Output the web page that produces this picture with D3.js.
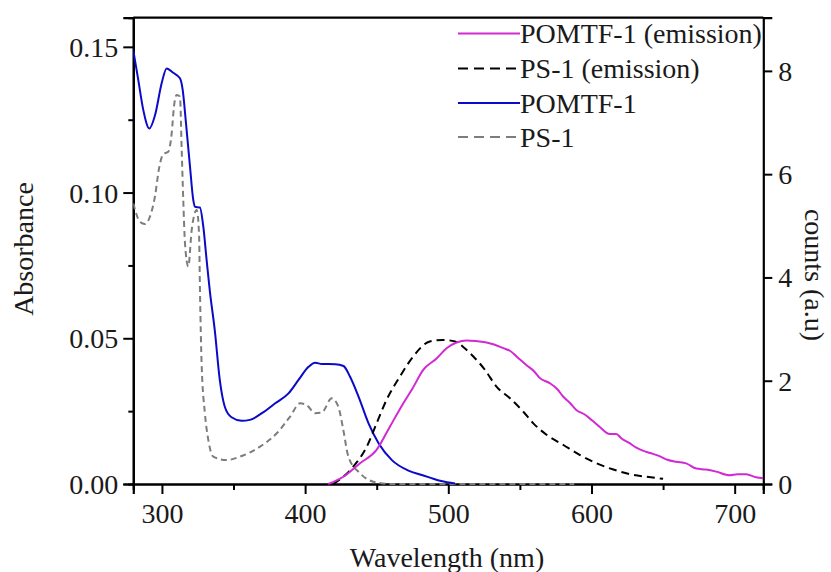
<!DOCTYPE html>
<html>
<head>
<meta charset="utf-8">
<script src="https://cdn.jsdelivr.net/npm/d3@7"></script>
<style>
  html, body { margin: 0; padding: 0; background: #fff; }
  svg { display: block; }
  text { font-family: "Liberation Serif", "Times New Roman", serif; fill: #1a1a1a; }
</style>
</head>
<body>
<svg id="chart" width="831" height="572"></svg>
<script>
// Absorption spectra (left axis, absorbance) and emission spectra (right axis, counts)
const pomtfAbsWl  = [280, 283.5, 287, 291.2, 295.2, 299.8, 303.3, 307.9, 312.6, 314.5, 316.8, 319.6, 321.9, 323.1, 326.5, 328.9, 331.2, 333.5, 336.9, 340.4, 343.9, 348.6, 355.6, 361.4, 369.8, 379.1, 388.4, 395.4, 402.4, 407, 411.7, 421, 426.8, 431.4, 437.3, 444.3, 451.3, 460.6, 472.2, 481.5, 487.2, 495, 504.7];
const pomtfAbs    = [0.1488, 0.1386, 0.1283, 0.1220, 0.1266, 0.1375, 0.1426, 0.1411, 0.1392, 0.1352, 0.1238, 0.1089, 0.0974, 0.0951, 0.0949, 0.0883, 0.0769, 0.0660, 0.0528, 0.0357, 0.0265, 0.0229, 0.0217, 0.0220, 0.0243, 0.0277, 0.0311, 0.0357, 0.0402, 0.0416, 0.0412, 0.0411, 0.0405, 0.0368, 0.0300, 0.0208, 0.0140, 0.0082, 0.0046, 0.0031, 0.0022, 0.0010, 0.0002];

const ps1AbsWl    = [280, 284.6, 288.1, 291.6, 295.1, 298.2, 300.9, 304.4, 306.8, 308.4, 310.3, 312.6, 313.8, 314.9, 316.1, 318.4, 320.8, 324.3, 325.9, 326.6, 327.7, 330, 332.4, 335.9, 345.2, 354.6, 368.5, 380.2, 389.5, 396.5, 401.1, 406.9, 411.6, 418.6, 423.2, 426.7, 430.2, 438.3, 447.6, 460, 520, 588];
const ps1Abs      = [0.0963, 0.0900, 0.0892, 0.0917, 0.0986, 0.1089, 0.1132, 0.1140, 0.1203, 0.1295, 0.1335, 0.1329, 0.1146, 0.0974, 0.0826, 0.0746, 0.0872, 0.0940, 0.0860, 0.0654, 0.0414, 0.0243, 0.0151, 0.0094, 0.0082, 0.0094, 0.0128, 0.0174, 0.0231, 0.0277, 0.0271, 0.0243, 0.0245, 0.0294, 0.0265, 0.0185, 0.0094, 0.0037, 0.0008, 0.0, 0.0, 0.0];

const pomtfEmWl   = [416.2, 426.7, 438.3, 449.9, 459.2, 468.5, 475, 482.5, 491.8, 498.8, 505.8, 512.8, 519, 526.7, 532, 538.4, 543, 547.7, 554.7, 560, 564, 571, 576, 580.3, 585, 589.6, 595, 600.1, 606, 612.7, 617.3, 621, 626.6, 631, 635.9, 641, 647.5, 653, 659.1, 666.1, 673.1, 680, 687.1, 696.4, 702, 708, 715, 720];
const pomtfEm     = [0.0, 0.14, 0.40, 0.66, 1.11, 1.56, 1.85, 2.21, 2.43, 2.63, 2.74, 2.78, 2.77, 2.74, 2.70, 2.63, 2.58, 2.47, 2.30, 2.18, 2.05, 1.95, 1.84, 1.69, 1.57, 1.43, 1.35, 1.24, 1.10, 0.97, 0.97, 0.88, 0.79, 0.71, 0.645, 0.60, 0.54, 0.47, 0.43, 0.40, 0.30, 0.28, 0.24, 0.17, 0.19, 0.19, 0.13, 0.11];

const ps1EmWl     = [419.7, 433.6, 443, 449.9, 456.9, 466.2, 475.5, 487.1, 496.4, 504.7, 511, 517.5, 525.6, 533.8, 543.1, 552.4, 559.4, 568.8, 580.4, 592, 603.6, 615.3, 626.9, 638.5, 650];
const ps1Em       = [0.0, 0.335, 0.72, 1.175, 1.63, 2.08, 2.47, 2.76, 2.79, 2.76, 2.64, 2.47, 2.21, 1.88, 1.66, 1.40, 1.175, 0.95, 0.755, 0.56, 0.40, 0.28, 0.19, 0.14, 0.10];

const xTicks      = [300, 400, 500, 600, 700];
const xMinorTicks = [350, 450, 550, 650];
const yLeftTicks  = [0.00, 0.05, 0.10, 0.15];
const yLeftMinor  = [0.025, 0.075, 0.125];
const yRightTicks = [0, 2, 4, 6, 8];

const legendLabels = ["POMTF-1 (emission)", "PS-1 (emission)", "POMTF-1", "PS-1"];

const svg = d3.select("#chart");
const m = { left: 133.3, right: 763.3, top: 17.7, bottom: 484 };

const x = d3.scaleLinear().domain([280, 720]).range([m.left, m.right]);
const yL = d3.scaleLinear().domain([0, 0.16]).range([m.bottom, m.top]);
const yR = d3.scaleLinear().domain([0, 9.03]).range([m.bottom, m.top]);

const styles = {
  pomtfEm: { color: "#d22ad2", dash: null },
  ps1Em:   { color: "#000000", dash: "8,5" },
  pomtfAbs:{ color: "#0a0ac8", dash: null },
  ps1Abs:  { color: "#7d7d7d", dash: "6,4" }
};

function pairs(xs, ys) { return xs.map((v, i) => [v, ys[i]]); }

const plot = svg.append("g");

// Clip curves to the plotting frame
svg.append("clipPath").attr("id", "clip")
  .append("rect").attr("x", m.left).attr("y", m.top)
  .attr("width", m.right - m.left).attr("height", m.bottom - m.top + 2);

const lineL = d3.line().x(d => x(d[0])).y(d => yL(d[1])).curve(d3.curveMonotoneX);
const lineR = d3.line().x(d => x(d[0])).y(d => yR(d[1])).curve(d3.curveMonotoneX);

// Axes (drawn first so curves lying on zero overlay the baseline)
const fs = 28;

const xAxis = d3.axisBottom(x).tickValues(xTicks).tickSize(10).tickPadding(8).tickFormat(d3.format("d"));
const gx = svg.append("g").attr("transform", `translate(0,${m.bottom})`).call(xAxis);
svg.append("g").attr("transform", `translate(0,${m.bottom})`)
  .call(d3.axisBottom(x).tickValues(xMinorTicks).tickSize(6).tickFormat(""));

const gyl = svg.append("g").attr("transform", `translate(${m.left},0)`)
  .call(d3.axisLeft(yL).tickValues(yLeftTicks).tickSize(10).tickPadding(5).tickFormat(d3.format(".2f")));
svg.append("g").attr("transform", `translate(${m.left},0)`)
  .call(d3.axisLeft(yL).tickValues(yLeftMinor).tickSize(5).tickFormat(""));

const gyr = svg.append("g").attr("transform", `translate(${m.right},0)`)
  .call(d3.axisRight(yR).tickValues(yRightTicks).tickSize(9).tickPadding(6).tickFormat(d3.format("d")));

svg.selectAll(".domain").attr("stroke", "#000").attr("stroke-width", 2.2);
svg.selectAll(".tick line").attr("stroke", "#000").attr("stroke-width", 2);
svg.selectAll(".tick text").style("font-family", '"Liberation Serif", serif').style("font-size", fs + "px").attr("fill", "#1a1a1a");
gyl.selectAll(".tick text").attr("dy", "0.34em");
gyr.selectAll(".tick text").attr("dy", "0.34em");
gx.selectAll(".tick text").attr("dy", "0.76em");

// Top frame line
svg.append("line").attr("x1", m.left).attr("x2", m.right).attr("y1", m.top).attr("y2", m.top)
  .attr("stroke", "#000").attr("stroke-width", 2.2);

// Spectra
const curves = [
  { data: pairs(ps1AbsWl, ps1Abs), line: lineL, s: styles.ps1Abs },
  { data: pairs(pomtfAbsWl, pomtfAbs), line: lineL, s: styles.pomtfAbs },
  { data: pairs(ps1EmWl, ps1Em), line: lineR, s: styles.ps1Em },
  { data: pairs(pomtfEmWl, pomtfEm), line: lineR, s: styles.pomtfEm }
];
plot.attr("clip-path", "url(#clip)");
curves.forEach(c => {
  plot.append("path")
    .datum(c.data)
    .attr("d", c.line)
    .attr("fill", "none")
    .attr("stroke", c.s.color)
    .attr("stroke-width", 2)
    .attr("stroke-dasharray", c.s.dash);
});
plot.raise();

// Legend
const legendStyles = [styles.pomtfEm, styles.ps1Em, styles.pomtfAbs, styles.ps1Abs];
const legendY = [33.5, 68.5, 103, 137];
const lg = svg.append("g");
legendLabels.forEach((lab, i) => {
  const st = legendStyles[i];
  lg.append("line")
    .attr("x1", 458).attr("x2", 520)
    .attr("y1", legendY[i]).attr("y2", legendY[i])
    .attr("stroke", st.color).attr("stroke-width", 2)
    .attr("stroke-dasharray", st.dash ? "10,6" : null);
  lg.append("text")
    .attr("x", 520).attr("y", legendY[i]).attr("dy", "0.34em")
    .style("font-size", fs + "px")
    .text(lab);
});

// Axis titles
svg.append("text")
  .attr("x", 447).attr("y", 567)
  .attr("text-anchor", "middle")
  .style("font-size", fs + "px")
  .text("Wavelength (nm)");

svg.append("text")
  .attr("transform", "translate(33,249) rotate(-90)")
  .attr("text-anchor", "middle")
  .style("font-size", fs + "px")
  .text("Absorbance");

svg.append("text")
  .attr("transform", "translate(805,275) rotate(90)")
  .attr("text-anchor", "middle")
  .style("font-size", fs + "px")
  .text("counts (a.u)");
</script>
</body>
</html>
